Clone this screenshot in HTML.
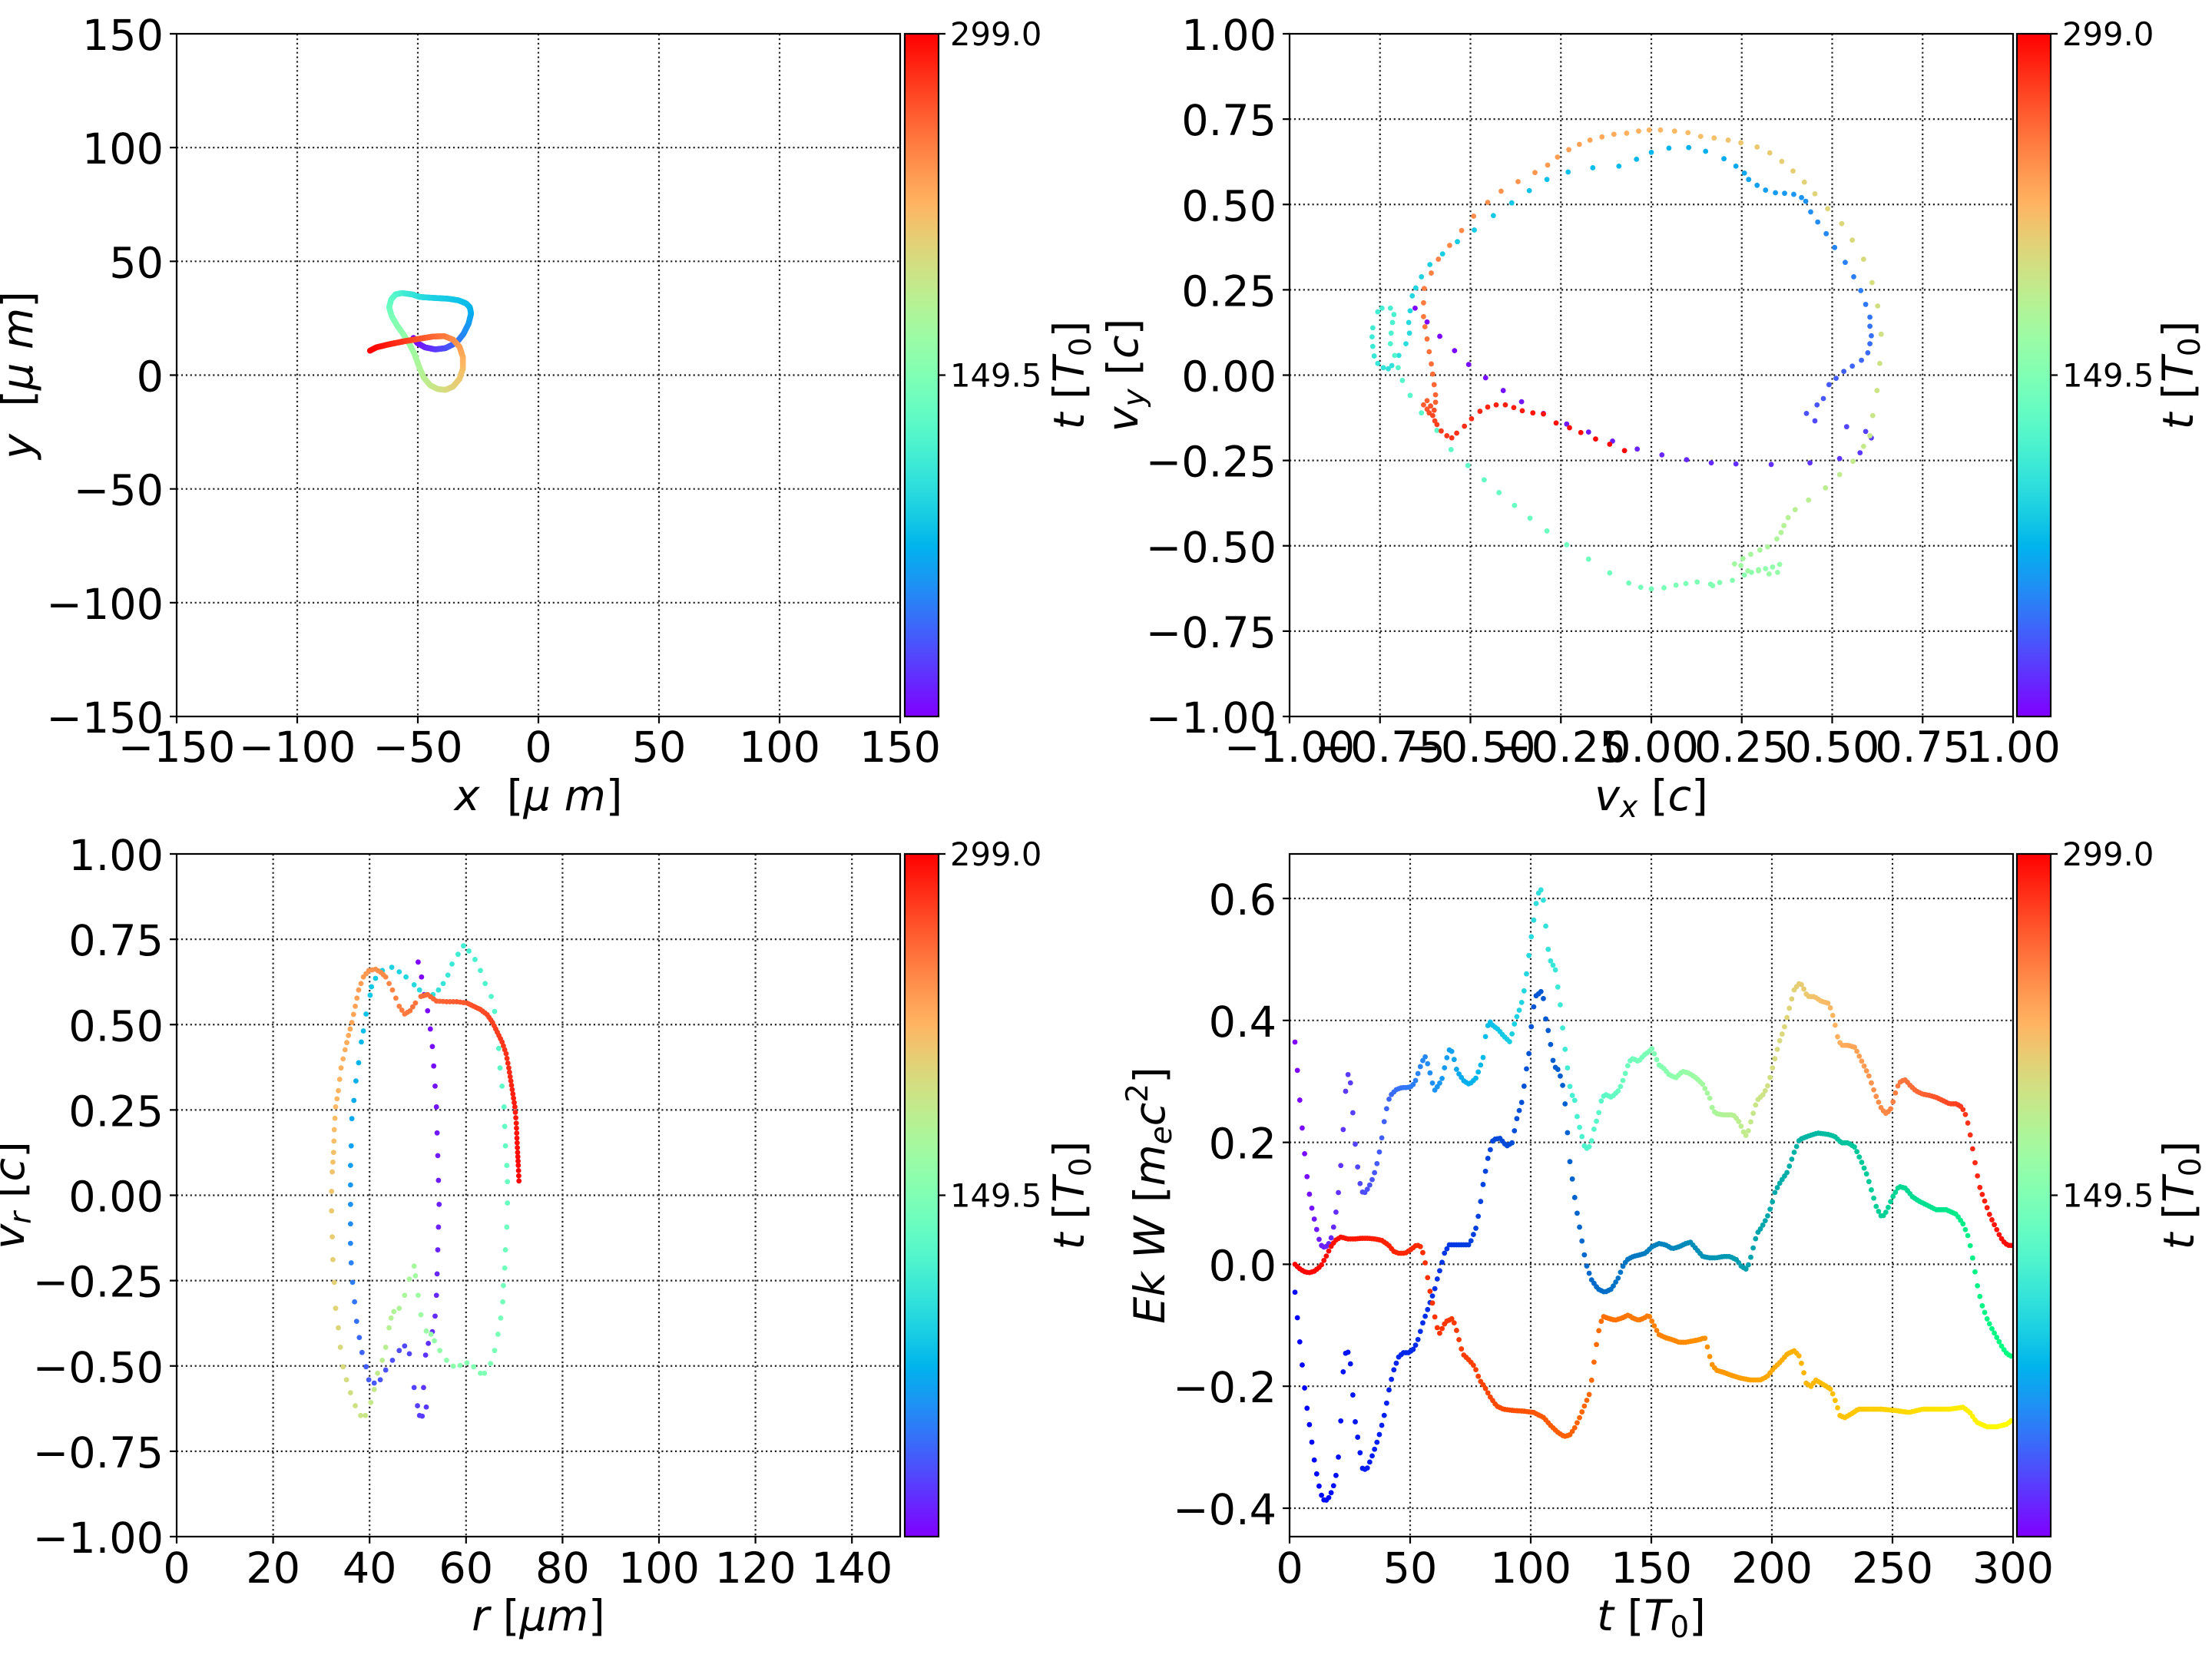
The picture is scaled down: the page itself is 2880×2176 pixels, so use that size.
<!DOCTYPE html>
<html>
<head>
<meta charset="utf-8">
<style>
html,body{margin:0;padding:0;background:#fff;}
svg{display:block;}
text{font-family:"DejaVu Sans","Liberation Sans",sans-serif;fill:#000;}
.tk{font-size:55.6px;}
.cb{font-size:41.7px;}
.lb{font-size:55.6px;}
.it{font-style:italic;}
</style>
</head>
<body>
<svg id="fig" xmlns="http://www.w3.org/2000/svg" width="2880" height="2176" viewBox="0 0 2880 2176">
<defs>
<linearGradient id="rb" x1="0" y1="1" x2="0" y2="0">
<stop offset="0" stop-color="rgb(128,0,255)"/>
<stop offset="0.05" stop-color="rgb(102,40,254)"/>
<stop offset="0.1" stop-color="rgb(77,79,252)"/>
<stop offset="0.15" stop-color="rgb(51,116,248)"/>
<stop offset="0.2" stop-color="rgb(26,150,243)"/>
<stop offset="0.25" stop-color="rgb(0,180,236)"/>
<stop offset="0.3" stop-color="rgb(26,206,227)"/>
<stop offset="0.35" stop-color="rgb(51,227,218)"/>
<stop offset="0.4" stop-color="rgb(77,243,206)"/>
<stop offset="0.45" stop-color="rgb(102,252,194)"/>
<stop offset="0.5" stop-color="rgb(128,255,180)"/>
<stop offset="0.55" stop-color="rgb(153,252,166)"/>
<stop offset="0.6" stop-color="rgb(179,243,150)"/>
<stop offset="0.65" stop-color="rgb(204,227,133)"/>
<stop offset="0.7" stop-color="rgb(230,206,116)"/>
<stop offset="0.75" stop-color="rgb(255,180,98)"/>
<stop offset="0.8" stop-color="rgb(255,150,79)"/>
<stop offset="0.85" stop-color="rgb(255,116,60)"/>
<stop offset="0.9" stop-color="rgb(255,79,40)"/>
<stop offset="0.95" stop-color="rgb(255,40,20)"/>
<stop offset="1" stop-color="rgb(255,0,0)"/>
</linearGradient>
</defs>
<rect x="0" y="0" width="2880" height="2176" fill="#fff"/>

<!-- GRIDS -->
<g stroke="#222" stroke-width="2.2" stroke-dasharray="2.2 3.7" fill="none">
<path d="M387 44V933M544 44V933M701 44V933M858 44V933M1015 44V933M230 784.8H1172M230 636.7H1172M230 488.5H1172M230 340.3H1172M230 192.2H1172"/>
<path d="M1796.75 44V933M1914.5 44V933M2032.25 44V933M2150 44V933M2267.75 44V933M2385.5 44V933M2503.25 44V933M1679 821.9H2621M1679 710.75H2621M1679 599.6H2621M1679 488.5H2621M1679 377.4H2621M1679 266.25H2621M1679 155.1H2621"/>
<path d="M355.6 1112V2001M481.2 1112V2001M606.8 1112V2001M732.4 1112V2001M858 1112V2001M983.6 1112V2001M1109.2 1112V2001M230 1889.9H1172M230 1778.75H1172M230 1667.6H1172M230 1556.5H1172M230 1445.4H1172M230 1334.25H1172M230 1223.1H1172"/>
<path d="M1836 1112V2001M1993 1112V2001M2150 1112V2001M2307 1112V2001M2464 1112V2001M1679 1170H2621M1679 1328.8H2621M1679 1487.6H2621M1679 1646.4H2621M1679 1805.2H2621M1679 1964H2621"/>
</g>

<!-- DATA GROUPS -->
<g id="d1"></g>
<g id="d2"></g>
<g id="d3"></g>
<g id="d4"></g>

<!-- SPINES -->
<g fill="none" stroke="#000" stroke-width="2.2">
<rect x="230" y="44" width="942" height="889"/>
<rect x="1679" y="44" width="942" height="889"/>
<rect x="230" y="1112" width="942" height="889"/>
<rect x="1679" y="1112" width="942" height="889"/>
</g>

<!-- TICKS -->
<g stroke="#000" stroke-width="2.2" fill="none">
<path d="M230 933v9M387 933v9M544 933v9M701 933v9M858 933v9M1015 933v9M1172 933v9M221 933h9M221 784.8h9M221 636.7h9M221 488.5h9M221 340.3h9M221 192.2h9M221 44h9"/>
<path d="M1679 933v9M1796.75 933v9M1914.5 933v9M2032.25 933v9M2150 933v9M2267.75 933v9M2385.5 933v9M2503.25 933v9M2621 933v9M1670 933h9M1670 821.9h9M1670 710.75h9M1670 599.6h9M1670 488.5h9M1670 377.4h9M1670 266.25h9M1670 155.1h9M1670 44h9"/>
<path d="M230 2001v9M355.6 2001v9M481.2 2001v9M606.8 2001v9M732.4 2001v9M858 2001v9M983.6 2001v9M1109.2 2001v9M221 2001h9M221 1889.9h9M221 1778.75h9M221 1667.6h9M221 1556.5h9M221 1445.4h9M221 1334.25h9M221 1223.1h9M221 1112h9"/>
<path d="M1679 2001v9M1836 2001v9M1993 2001v9M2150 2001v9M2307 2001v9M2464 2001v9M2621 2001v9M1670 1170h9M1670 1328.8h9M1670 1487.6h9M1670 1646.4h9M1670 1805.2h9M1670 1964h9"/>
</g>

<!-- TICK LABELS plot 1 -->
<g class="tk" text-anchor="middle">
<text x="230" y="992">−150</text><text x="387" y="992">−100</text><text x="544" y="992">−50</text><text x="701" y="992">0</text><text x="858" y="992">50</text><text x="1015" y="992">100</text><text x="1172" y="992">150</text>
</g>
<g class="tk" text-anchor="end">
<text x="213" y="954">−150</text><text x="213" y="805.8">−100</text><text x="213" y="657.7">−50</text><text x="213" y="509.5">0</text><text x="213" y="361.3">50</text><text x="213" y="213.2">100</text><text x="213" y="65">150</text>
</g>
<!-- plot 2 -->
<g class="tk" text-anchor="middle">
<text x="1679" y="992">−1.00</text><text x="1796.75" y="992">−0.75</text><text x="1914.5" y="992">−0.50</text><text x="2032.25" y="992">−0.25</text><text x="2150" y="992">0.00</text><text x="2267.75" y="992">0.25</text><text x="2385.5" y="992">0.50</text><text x="2503.25" y="992">0.75</text><text x="2621" y="992">1.00</text>
</g>
<g class="tk" text-anchor="end">
<text x="1662" y="954">−1.00</text><text x="1662" y="842.9">−0.75</text><text x="1662" y="731.75">−0.50</text><text x="1662" y="620.6">−0.25</text><text x="1662" y="509.5">0.00</text><text x="1662" y="398.4">0.25</text><text x="1662" y="287.25">0.50</text><text x="1662" y="176.1">0.75</text><text x="1662" y="65">1.00</text>
</g>
<!-- plot 3 -->
<g class="tk" text-anchor="middle">
<text x="230" y="2061">0</text><text x="355.6" y="2061">20</text><text x="481.2" y="2061">40</text><text x="606.8" y="2061">60</text><text x="732.4" y="2061">80</text><text x="858" y="2061">100</text><text x="983.6" y="2061">120</text><text x="1109.2" y="2061">140</text>
</g>
<g class="tk" text-anchor="end">
<text x="213" y="2022">−1.00</text><text x="213" y="1910.9">−0.75</text><text x="213" y="1799.75">−0.50</text><text x="213" y="1688.6">−0.25</text><text x="213" y="1577.5">0.00</text><text x="213" y="1466.4">0.25</text><text x="213" y="1355.25">0.50</text><text x="213" y="1244.1">0.75</text><text x="213" y="1133">1.00</text>
</g>
<!-- plot 4 -->
<g class="tk" text-anchor="middle">
<text x="1679" y="2061">0</text><text x="1836" y="2061">50</text><text x="1993" y="2061">100</text><text x="2150" y="2061">150</text><text x="2307" y="2061">200</text><text x="2464" y="2061">250</text><text x="2621" y="2061">300</text>
</g>
<g class="tk" text-anchor="end">
<text x="1662" y="1191">0.6</text><text x="1662" y="1349.8">0.4</text><text x="1662" y="1508.6">0.2</text><text x="1662" y="1667.4">0.0</text><text x="1662" y="1826.2">−0.2</text><text x="1662" y="1985">−0.4</text>
</g>

<!-- COLORBARS -->
<g stroke="#000" stroke-width="2.2">
<rect x="1178" y="44" width="44" height="889" fill="url(#rb)"/>
<rect x="2626" y="44" width="44" height="889" fill="url(#rb)"/>
<rect x="1178" y="1112" width="44" height="889" fill="url(#rb)"/>
<rect x="2626" y="1112" width="44" height="889" fill="url(#rb)"/>
<path fill="none" d="M1222 44h9M1222 488.5h9M2670 44h9M2670 488.5h9M1222 1112h9M1222 1556.5h9M2670 1112h9M2670 1556.5h9"/>
</g>
<g class="cb">
<text x="1237" y="59">299.0</text><text x="1237" y="503.5">149.5</text>
<text x="2685" y="59">299.0</text><text x="2685" y="503.5">149.5</text>
<text x="1237" y="1127">299.0</text><text x="1237" y="1571.5">149.5</text>
<text x="2685" y="1127">299.0</text><text x="2685" y="1571.5">149.5</text>
</g>

<!-- AXIS LABELS -->
<g class="lb" text-anchor="middle">
<text x="701" y="1055"><tspan class="it">x</tspan>&#160;&#160;[<tspan class="it">μ</tspan> <tspan class="it">m</tspan>]</text>
<text x="2150" y="1055"><tspan class="it">v</tspan><tspan class="it" font-size="39" dy="9">x</tspan><tspan dy="-9"> [</tspan><tspan class="it">c</tspan>]</text>
<text x="701" y="2123"><tspan class="it">r</tspan> [<tspan class="it">μm</tspan>]</text>
<text x="2150" y="2123"><tspan class="it">t</tspan> [<tspan class="it">T</tspan><tspan font-size="39" dy="9">0</tspan><tspan dy="-9">]</tspan></text>

<text transform="translate(42,488.5) rotate(-90)"><tspan class="it">y</tspan>&#160;&#160;[<tspan class="it">μ</tspan> <tspan class="it">m</tspan>]</text>
<text transform="translate(1481,488.5) rotate(-90)"><tspan class="it">v</tspan><tspan class="it" font-size="39" dy="9">y</tspan><tspan dy="-9"> [</tspan><tspan class="it">c</tspan>]</text>
<text transform="translate(31,1556.5) rotate(-90)"><tspan class="it">v</tspan><tspan class="it" font-size="39" dy="9">r</tspan><tspan dy="-9"> [</tspan><tspan class="it">c</tspan>]</text>
<text transform="translate(1516,1556.5) rotate(-90)"><tspan class="it">Ek</tspan> <tspan class="it">W</tspan> [<tspan class="it">m</tspan><tspan class="it" font-size="39" dy="9">e</tspan><tspan class="it" dy="-9">c</tspan><tspan font-size="39" dy="-22">2</tspan><tspan dy="22">]</tspan></text>

<text transform="translate(1411,488.5) rotate(-90)"><tspan class="it">t</tspan> [<tspan class="it">T</tspan><tspan font-size="39" dy="9">0</tspan><tspan dy="-9">]</tspan></text>
<text transform="translate(2855,488.5) rotate(-90)"><tspan class="it">t</tspan> [<tspan class="it">T</tspan><tspan font-size="39" dy="9">0</tspan><tspan dy="-9">]</tspan></text>
<text transform="translate(1411,1556.5) rotate(-90)"><tspan class="it">t</tspan> [<tspan class="it">T</tspan><tspan font-size="39" dy="9">0</tspan><tspan dy="-9">]</tspan></text>
<text transform="translate(2856,1556.5) rotate(-90)"><tspan class="it">t</tspan> [<tspan class="it">T</tspan><tspan font-size="39" dy="9">0</tspan><tspan dy="-9">]</tspan></text>
</g>
</svg>

<script>
(function(){
var NS="http://www.w3.org/2000/svg";
function C(r,g,b){return 'rgb('+Math.round(r*255)+','+Math.round(g*255)+','+Math.round(b*255)+')';}
function cl(x){return Math.max(0,Math.min(1,x));}
function rainbow(x){x=cl(x);return C(Math.min(1,Math.abs(2*x-0.5)),Math.sin(Math.PI*x),Math.cos(Math.PI*x/2));}
function winter(x){x=cl(x);return C(0,x,1-0.5*x);}
function autumn(x){x=cl(x);return C(1,x,0);}
function dot(g,x,y,r,c){var e=document.createElementNS(NS,'circle');e.setAttribute('cx',x.toFixed(2));e.setAttribute('cy',y.toFixed(2));e.setAttribute('r',r);e.setAttribute('fill',c);g.appendChild(e);}

/* ---------- Plot 1 trajectory ---------- */
var P1=[[235,225,0],[250,245,5],[280,262,12],[320,270,20],[360,265,28],[390,250,36],[410,235,44],[430,210,52],[450,170,60],[460,130,68],[455,105,74],[440,90,78],[410,78,82],[370,72,86],[300,68,92],[260,65,98],[230,55,104],[190,50,112],[165,55,120],[148,75,128],[140,105,136],[150,140,144],[170,175,152],[195,210,158],[220,250,164],[240,290,170],[258,340,176],[275,380,182],[300,410,188],[330,425,194],[360,428,200],[390,415,206],[415,385,212],[428,345,218],[428,300,226],[415,260,234],[390,232,242],[355,218,250],[310,220,258],[260,228,266],[200,238,276],[140,250,286],[90,262,294],[65,275,299]];
var g1=document.getElementById('d1');
for(var i=0;i<P1.length-1;i++){
  var a=P1[i],b=P1[i+1];
  var ax=460+a[0]/3,ay=365+a[1]/3,bx=460+b[0]/3,by=365+b[1]/3;
  var L=Math.hypot(bx-ax,by-ay),n=Math.max(1,Math.ceil(L/0.8));
  for(var k=0;k<n;k++){var f=k/n;dot(g1,ax+(bx-ax)*f,ay+(by-ay)*f,3.8,rainbow((a[2]+(b[2]-a[2])*f)/299));}
}
(function(){var z=P1[P1.length-1];dot(g1,460+z[0]/3,365+z[1]/3,3.8,rainbow(1));})();

function segs(g,S,fx,fy,r){
  S.forEach(function(s){
    var t0=s[0],t1=s[1],p=s[2],n=p.length,k=s[3]||1;
    for(var i=0;i<n;i++){
      var t=n>1?t0+(t1-t0)*i/(n-1):t0;
      dot(g,fx(p[i][0]),fy(p[i][1]),r,rainbow(t/299));
      if(k>1&&i<n-1){
        for(var j=1;j<k;j++){var f=j/k;var tt=t+(t1-t0)/(n-1)*f;
          dot(g,fx(p[i][0]+(p[i+1][0]-p[i][0])*f),fy(p[i][1]+(p[i+1][1]-p[i][1])*f),r,rainbow(tt/299));}
      }
    }
  });
}

/* ---------- Plot 2 ---------- */
var P2=[
[0,20,[[438,578],[455,604],[473,631],[494,658],[514,684],[538,709],[563,733],[589,754],[620,776],[653,796],[684,811],[718,828],[753,843],[788,854],[823,863],[858,869],[893,871],[943,872],[998,869],[1040,861]]],
[21,32,[[1069,850],[1085,822],[1077,810],[1050,801],[1005,790],[993,776],[1008,760]]],
[33,95,[[1017,748],[1025,722],[1035,710],[1046,697],[1058,687],[1071,676],[1080,662],[1083,645],[1085,630],[1083,612],[1083,595],[1077,571],[1070,545],[1060,519],[1048,492],[1033,464],[1021,438],[1009,416],[999,397],[992,377],[986,370],[975,364],[962,362],[949,361],[935,356],[923,347],[911,336],[905,324],[893,311],[876,297],[850,283],[826,276],[798,277],[773,285],[752,298],[727,311],[690,314],[655,322],[625,336],[600,357],[575,380],[549,404],[522,431],[498,453],[477,476],[459,496],[447,519],[439,540],[434,555]]],
[96,124,[[431,583],[429,605],[430,625],[425,645],[415,667],[405,686],[400,692],[393,690],[385,682],[380,668],[378,650],[377,632],[378,615],[385,585],[391,578],[403,578],[408,590],[406,605],[404,625],[403,645],[409,667],[414,690]]],
[125,150,[[420,714],[431,742],[447,775],[469,808],[489,844],[513,874],[536,901],[557,925],[579,949],[601,973],[625,997],[653,1023],[684,1050],[714,1076],[741,1095],[758,1103],[773,1106],[791,1104],[808,1099],[822,1096],[838,1093],[857,1097]]],
[151,170,[[860,1100],[870,1094],[888,1090],[905,1080],[915,1075],[925,1070],[935,1068],[945,1065],[955,1060],[952,1075],[940,1078],[925,1072],[910,1072],[900,1062],[891,1059]]],
[171,205,[[903,1049],[914,1041],[927,1033],[938,1027],[951,1012],[957,1000],[961,987],[967,972],[977,957],[996,939],[1020,916],[1040,891],[1059,866],[1074,838],[1083,818],[1087,780],[1093,733],[1097,682],[1099,627],[1094,574],[1086,530],[1074,486],[1058,450],[1043,419],[1023,391]]],
[206,235,[[1005,363],[990,341],[974,320],[958,302],[941,286],[923,275],[900,267],[882,262],[862,258],[843,255],[825,248],[806,245],[786,243],[770,243],[755,245],[738,249],[720,251],[703,256],[686,262],[671,270],[656,280]]],
[236,262,[[640,294],[626,309],[608,323],[584,340],[560,358],[541,379],[521,405],[504,432],[487,460],[471,486],[461,512],[451,541],[450,568],[450,594],[452,613],[455,636],[458,660],[461,683],[463,702],[465,722],[467,741],[467,755]]],
[263,280,[[455,752],[450,760],[455,768],[460,762],[465,770],[458,775],[463,780],[466,790],[469,797],[475,809],[483,818],[490,822]]],
[281,299,[[497,813],[508,800],[518,786],[530,772],[541,764],[553,760],[566,760],[578,765],[590,771],[605,775],[620,777],[638,794],[657,803],[673,812],[694,824],[714,834],[735,846]]]
];
segs(document.getElementById('d2'),P2,function(x){return 2150+(x-773)*0.9181;},function(y){return 488.5+(y-704)*0.6924;},3.4);

/* ---------- Plot 3 ---------- */
var P3=[
[0,25,[[618,477],[623,500],[627,527],[632,552],[636,580],[639,607],[641,637],[643,668],[645,700],[646,740],[647,775],[648,813],[649,850],[648,885],[647,920],[646,957],[645,990],[643,1022],[639,1046],[633,1064],[629,1082],[626,1132],[630,1162],[624,1176],[620,1175],[617,1160],[612,1132]]],
[26,35,[[605,1080],[598,1068],[590,1075],[580,1090],[570,1105],[562,1120],[553,1125],[545,1120]]],
[36,85,[[541,1100],[535,1078],[531,1055],[527,1030],[524,1000],[521,970],[519,940],[518,910],[518,880],[518,850],[518,820],[518,790],[519,760],[520,718],[523,690],[526,660],[530,632],[534,600],[537,583],[541,557],[547,528]]],
[86,125,[[549,515],[555,502],[565,490],[579,485],[590,492],[600,500],[612,512],[620,520],[630,527],[640,527],[648,520],[655,510],[662,497],[668,480],[677,465],[685,452],[693,460],[702,473],[710,490],[717,510],[726,530],[731,553]]],
[126,150,[[735,585],[737,610],[739,640],[742,668],[745,700],[746,730],[747,760],[749,790],[750,815],[750,848],[749,885],[747,920],[746,948],[744,975],[743,1000],[740,1025],[736,1050],[731,1075],[725,1095],[716,1110],[710,1110]]],
[151,172,[[700,1100],[690,1094],[680,1098],[670,1099],[660,1090],[650,1075],[642,1060],[637,1050],[630,1045],[622,1020],[618,990],[614,960],[612,945]]],
[173,215,[[605,965],[598,990],[590,1010],[582,1015],[578,1025],[575,1040],[570,1070],[565,1090],[558,1110],[553,1135],[548,1155],[540,1175],[533,1175],[525,1160],[518,1140],[512,1120],[507,1100],[503,1070],[500,1040],[496,1010],[494,970],[492,935],[491,900],[490,860],[490,830]]],
[216,255,[[491,800],[493,770],[494,735],[496,700],[500,675],[504,640],[510,612],[515,590],[520,570],[525,545],[530,520],[537,500],[545,490],[555,488],[563,493],[570,500],[580,520],[590,545],[598,557],[606,552],[614,540]],2],
[256,299,[[622,530],[632,527],[645,537],[660,538],[675,538],[690,540],[700,545],[710,550],[720,558],[728,570],[735,585],[742,600],[748,618],[752,640],[755,660],[758,680],[761,700],[763,725],[764,748],[765,770],[766,790],[767,814]],3]
];
segs(document.getElementById('d3'),P3,function(x){return 230+(x-261)*0.8808;},function(y){return 1556.5+(y-836)*0.8459;},3.4);

/* ---------- Plot 4 ---------- */
var SA=[[212,600],[217,661],[221,714],[225,757],[228,792],[232,825],[236,851],[240,870],[244,888],[248,905],[252,915],[257,916],[262,910],[266,900],[270,880],[275,845],[279,800],[282,760],[286,683],[290,650],[293,650],[297,700],[300,745],[304,787],[310,830],[315,832],[320,825],[325,815],[330,800],[335,780],[340,750],[345,715],[350,690],[355,680],[362,673],[370,670],[378,670],[385,668],[390,660],[395,645],[400,630],[405,622],[410,640],[418,675],[425,665],[430,655],[435,630],[440,612],[445,615],[450,640],[455,650],[462,660],[470,665],[475,660],[480,655],[485,640],[490,625],[495,580],[500,568],[505,575],[512,580],[520,590],[530,600],[537,570],[542,555],[546,545],[551,520],[555,490],[560,450],[563,425],[567,400],[570,375],[575,365],[578,368],[582,410],[585,450],[590,475],[597,488],[600,510],[604,540],[610,600],[615,640],[620,680],[625,685],[630,720],[635,740],[640,760],[645,765],[650,755],[655,730],[660,715],[665,690],[670,680],[680,685],[690,675],[695,665],[700,650],[706,630],[712,625],[720,630],[728,620],[735,615],[740,610],[745,622],[750,635],[757,640],[765,650],[775,655],[785,645],[795,648],[805,655],[815,665],[825,685],[830,705],[835,710],[845,712],[860,712],[867,720],[872,730],[878,745],[882,738],[888,715],[895,690],[905,680],[912,665],[918,640],[923,620],[928,600],[935,580],[940,560],[945,540],[950,520],[957,510],[962,512],[967,525],[972,530],[980,530],[990,537],[1000,540],[1005,550],[1010,570],[1015,595],[1020,605],[1030,605],[1040,608],[1048,625],[1055,640],[1060,650],[1065,665],[1070,680],[1078,700],[1085,710],[1092,705],[1097,690],[1102,670],[1108,660],[1115,658],[1120,665],[1130,675],[1140,680],[1150,682],[1160,685],[1170,690],[1180,695],[1190,695],[1198,700],[1205,715],[1210,740],[1215,770],[1220,800],[1225,825],[1232,845],[1240,868],[1248,885],[1255,900],[1262,910],[1268,913],[1274,913]];
var SB=[[212,985],[217,1040],[222,1090],[226,1130],[230,1165],[235,1200],[240,1240],[245,1270],[250,1295],[255,1305],[260,1305],[265,1295],[270,1280],[275,1255],[279,1200],[283,1110],[287,1078],[292,1077],[296,1113],[299,1170],[305,1210],[312,1257],[318,1258],[325,1240],[332,1220],[338,1200],[345,1170],[352,1130],[358,1105],[365,1085],[372,1078],[380,1078],[388,1072],[395,1055],[400,1035],[407,1015],[412,1000],[418,983],[423,962],[428,945],[433,925],[440,912],[450,912],[470,912],[480,885],[485,857],[490,820],[497,780],[505,750],[515,748],[525,760],[533,755],[540,718],[548,690],[553,650],[558,617],[562,570],[567,530],[573,525],[578,520],[582,560],[588,590],[595,638],[600,640],[607,660],[612,700],[618,780],[622,810],[627,850],[632,880],[637,910],[642,940],[650,965],[660,980],[670,985],[680,980],[690,963],[697,945],[703,935],[712,930],[720,928],[730,925],[740,915],[750,910],[760,912],[770,918],[780,915],[790,910],[797,908],[805,918],[815,930],[825,932],[835,932],[845,930],[855,930],[865,935],[872,945],[880,950],[885,935],[890,915],[895,895],[902,885],[910,870],[917,850],[922,830],[930,815],[940,800],[950,770],[958,750],[970,745],[985,740],[1000,742],[1010,745],[1020,755],[1030,755],[1040,762],[1050,785],[1058,805],[1065,830],[1072,855],[1080,870],[1087,860],[1095,840],[1105,822],[1115,825],[1125,838],[1135,845],[1145,850],[1160,858],[1175,858],[1190,865],[1200,880],[1207,898],[1212,920],[1217,950],[1222,980],[1228,1005],[1235,1025],[1242,1040],[1250,1055],[1258,1070],[1265,1080],[1274,1085]];
var SC=[[212,942],[218,948],[225,953],[232,955],[240,953],[250,945],[258,930],[265,915],[272,905],[280,900],[290,903],[300,903],[310,902],[320,902],[330,903],[340,905],[350,912],[358,922],[365,925],[375,925],[385,918],[392,912],[398,915],[403,930],[407,955],[410,975],[415,1000],[420,1030],[425,1050],[430,1040],[435,1030],[440,1028],[445,1025],[450,1040],[455,1060],[460,1080],[465,1085],[470,1090],[478,1100],[485,1120],[492,1130],[500,1145],[510,1160],[520,1165],[535,1167],[550,1168],[565,1170],[580,1178],[590,1190],[600,1200],[610,1207],[618,1205],[625,1195],[632,1180],[640,1160],[648,1140],[652,1110],[657,1070],[662,1040],[667,1022],[675,1025],[685,1028],[695,1025],[705,1020],[712,1025],[720,1028],[728,1025],[735,1020],[740,1030],[750,1050],[760,1055],[770,1058],[780,1062],[790,1062],[800,1060],[810,1058],[818,1055],[822,1070],[828,1095],[835,1105],[845,1108],[855,1112],[870,1117],[885,1120],[900,1120],[910,1115],[920,1102],[930,1092],[940,1080],[950,1075],[957,1082],[962,1098],[968,1125],[975,1130],[982,1120],[990,1125],[998,1130],[1005,1135],[1012,1155],[1018,1175],[1025,1178],[1035,1172],[1045,1165],[1060,1165],[1080,1165],[1100,1167],[1120,1170],[1140,1165],[1160,1165],[1180,1165],[1200,1162],[1210,1170],[1220,1185],[1235,1192],[1250,1192],[1265,1188],[1274,1180]];
var g4=document.getElementById('d4');
function series(T,cmap){
  var x0=212,x1=1274;
  for(var zx=x0;zx<=x1+0.01;zx+=3.566){
    var j=0;while(j<T.length-2&&T[j+1][0]<zx)j++;
    var a=T[j],b=T[j+1];var f=(zx-a[0])/(b[0]-a[0]);f=cl(f);
    var zy=a[1]+(b[1]-a[1])*f;
    dot(g4,1679+(zx-204)*0.8805,1646.4+(zy-942)*0.8461,3.4,cmap((zx-x0)/(x1-x0)));
  }
}
series(SA,rainbow);
series(SB,winter);
series(SC,autumn);
})();
</script>
</body>
</html>
